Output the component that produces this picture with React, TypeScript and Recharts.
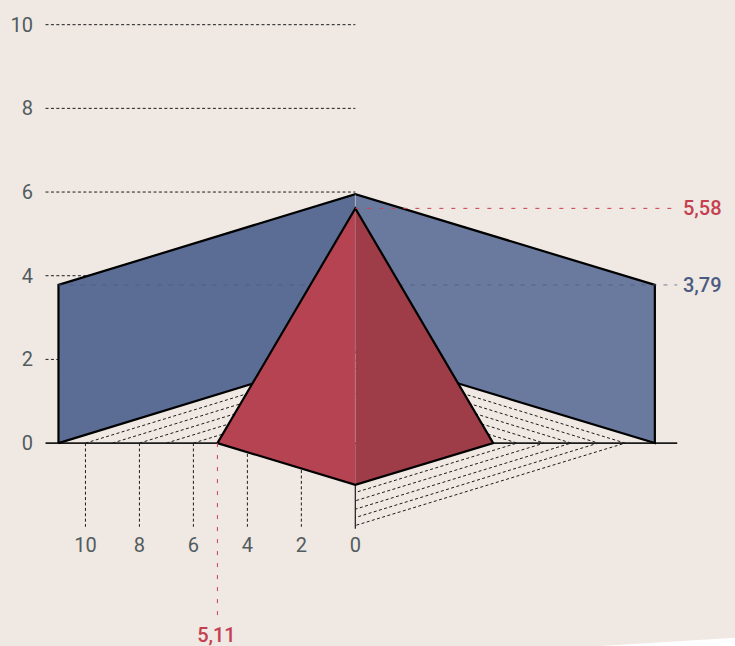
import React from 'react';
import { ComposedChart, Area, Line, XAxis, YAxis } from 'recharts';

const BG = '#efe8e3';
const INK = '#1c1c1c';
const TEXT = '#525c5e';
const FONT = 'Roboto, sans-serif';
const DASH = '3 2.4';

const xTicks = [10, 8, 6, 4, 2, 0];
const yTicks = [0, 2, 4, 6, 8, 10];
const gridValues = [2, 4, 6, 8, 10];
const tickStems = [10, 8, 6, 4, 2];
const floorSteps = [10, 9, 8, 7, 6];
const floorDepths = [1.97, 1.78, 1.58, 1.38, 1.18];

const wallLeftX = 11;
const wallRightX = -11.1;
const wallEdge = 3.78;
const wallPeak = 5.95;
const wallBack = 2.17;
const pyramidBase = 5.11;
const pyramidTop = 5.61;
const pyramidFront = -1;

const axisStart = 11.48;
const axisEnd = -11.93;
const stemEnd = -2;
const redDropEnd = -4.17;

const wallLeftFill = [
  { x: wallLeftX, y: [0, wallEdge] },
  { x: 0, y: [wallBack, wallPeak] },
];
const wallRightFill = [
  { x: 0, y: [wallBack, wallPeak] },
  { x: wallRightX, y: [0, wallEdge] },
];
const wallOutline = [
  { x: wallLeftX, y: 0 },
  { x: wallLeftX, y: wallEdge },
  { x: 0, y: wallPeak },
  { x: wallRightX, y: wallEdge },
  { x: wallRightX, y: 0 },
  { x: 0, y: wallBack },
  { x: wallLeftX, y: 0 },
];
const pyramidLeftFill = [
  { x: pyramidBase, y: [0, 0] },
  { x: 0, y: [pyramidFront, pyramidTop] },
];
const pyramidRightFill = [
  { x: 0, y: [pyramidFront, pyramidTop] },
  { x: -pyramidBase, y: [0, 0] },
];
const pyramidOutline = [
  { x: pyramidBase, y: 0 },
  { x: 0, y: pyramidTop },
  { x: -pyramidBase, y: 0 },
  { x: 0, y: pyramidFront },
  { x: pyramidBase, y: 0 },
];
const cornerFill = [
  { x: -9.07, y: [-4.85, -4.85] },
  { x: -14.07, y: [-4.85, -4.65] },
];
const baseline = [{ x: axisStart, y: 0 }, { x: axisEnd, y: 0 }];
const zeroStem = [{ x: 0, y: pyramidFront }, { x: 0, y: stemEnd - 0.05 }];
const centerSeam = [{ x: 0, y: wallPeak }, { x: 0, y: 0 }];
const blueGuide = [{ x: wallLeftX, y: wallEdge }, { x: axisEnd, y: wallEdge }];
const redGuide = [{ x: 0, y: pyramidTop }, { x: axisEnd, y: pyramidTop }];
const redDrop = [{ x: pyramidBase, y: 0 }, { x: pyramidBase, y: redDropEnd }];

const XTick = ({ x, payload }: any) => (
  <text x={x} y={552} textAnchor="middle" fontFamily={FONT} fontWeight={400} fontSize={20} fill={TEXT}>
    {payload.value}
  </text>
);

const YTick = ({ y, payload }: any) => (
  <text x={33} y={y + 7} textAnchor="end" fontFamily={FONT} fontWeight={400} fontSize={20} fill={TEXT}>
    {payload.value}
  </text>
);

const ValueText = ({ x, y, color, anchor, children }: any) => (
  <text x={x} y={y} textAnchor={anchor} fontFamily={FONT} fontWeight={500} fontSize={20} fill={color}>
    {children}
  </text>
);

const guideProps = {
  dataKey: 'y',
  dot: false,
  activeDot: false,
  legendType: 'none' as const,
  isAnimationActive: false,
};

const fillProps = {
  dataKey: 'y',
  dot: false,
  activeDot: false,
  fillOpacity: 1,
  stroke: 'none',
  isAnimationActive: false,
};

export default function App() {
  return (
    <div style={{ position: 'absolute', left: 0, top: 0, width: 735, height: 646, background: BG, overflow: 'hidden' }}>
      <ComposedChart width={735} height={646} margin={{ top: 0, right: 0, bottom: -1, left: -1 }}>
        <XAxis
          dataKey="x"
          type="number"
          reversed
          domain={[-14.05, 13.167]}
          ticks={xTicks}
          interval={0}
          height={1}
          axisLine={false}
          tickLine={false}
          tick={<XTick />}
        />
        <YAxis
          type="number"
          domain={[-4.83, 10.59]}
          ticks={yTicks}
          interval={0}
          width={1}
          axisLine={false}
          tickLine={false}
          tick={<YTick />}
        />

        <Area {...fillProps} data={cornerFill} fill="#ffffff" zIndex={1} />

        {gridValues.map((v) => (
          <Line key={`grid-${v}`} {...guideProps} data={[{ x: axisStart, y: v }, { x: 0, y: v }]} stroke={INK} strokeWidth={1} strokeDasharray={DASH} zIndex={2} />
        ))}
        {tickStems.map((v) => (
          <Line key={`stem-${v}`} {...guideProps} data={[{ x: v, y: 0 }, { x: v, y: stemEnd }]} stroke={INK} strokeWidth={1} strokeDasharray={DASH} zIndex={2} />
        ))}
        {floorSteps.map((k, i) => (
          <Line
            key={`floor-${k}`}
            {...guideProps}
            data={[
              { x: k, y: 0 },
              { x: 0, y: floorDepths[i] },
              { x: -k, y: 0 },
              { x: 0, y: -floorDepths[i] },
            ]}
            stroke={INK}
            strokeWidth={1}
            strokeDasharray={DASH}
            zIndex={2}
          />
        ))}
        <Line {...guideProps} data={baseline} stroke={INK} strokeWidth={1.6} zIndex={3} />
        <Line {...guideProps} data={zeroStem} stroke={INK} strokeWidth={1.2} zIndex={3} />

        <Area {...fillProps} data={wallLeftFill} fill="#5c6d95" zIndex={4} />
        <Area {...fillProps} data={wallRightFill} fill="#6a7a9e" zIndex={4} />
        <Line {...guideProps} data={wallOutline} stroke="#000000" strokeWidth={2.2} zIndex={5} />
        <Line {...guideProps} data={centerSeam} stroke="#ffffff" strokeOpacity={0.2} strokeWidth={1} zIndex={5} />
        <Line
          {...guideProps}
          data={blueGuide}
          stroke="#4a5a80"
          strokeOpacity={0.75}
          strokeWidth={1}
          strokeDasharray="4 7"
          label={({ index, y }: any) =>
            index === 1 ? <ValueText key="blue" x={683} y={y + 7} color="#4a5a80" anchor="start">3,79</ValueText> : <g key={index} />
          }
          zIndex={6}
        />

        <Area {...fillProps} data={pyramidLeftFill} fill="#b64351" zIndex={7} />
        <Area {...fillProps} data={pyramidRightFill} fill="#9e3c48" zIndex={7} />
        <Line {...guideProps} data={centerSeam} stroke="#ffffff" strokeOpacity={0.15} strokeWidth={1} zIndex={8} />
        <Line {...guideProps} data={pyramidOutline} stroke="#000000" strokeWidth={2.2} zIndex={9} />
        <Line
          {...guideProps}
          data={redGuide}
          stroke="#c5404f"
          strokeWidth={1}
          strokeDasharray="4 8"
          label={({ index, y }: any) =>
            index === 1 ? <ValueText key="red" x={683} y={y + 7} color="#c5404f" anchor="start">5,58</ValueText> : <g key={index} />
          }
          zIndex={10}
        />
        <Line
          {...guideProps}
          data={redDrop}
          stroke="#c5404f"
          strokeWidth={1}
          strokeDasharray="4 8"
          label={({ index, x, y }: any) =>
            index === 1 ? <ValueText key="drop" x={x - 1} y={y + 24} color="#c5404f" anchor="middle">5,11</ValueText> : <g key={index} />
          }
          zIndex={10}
        />
      </ComposedChart>
    </div>
  );
}
